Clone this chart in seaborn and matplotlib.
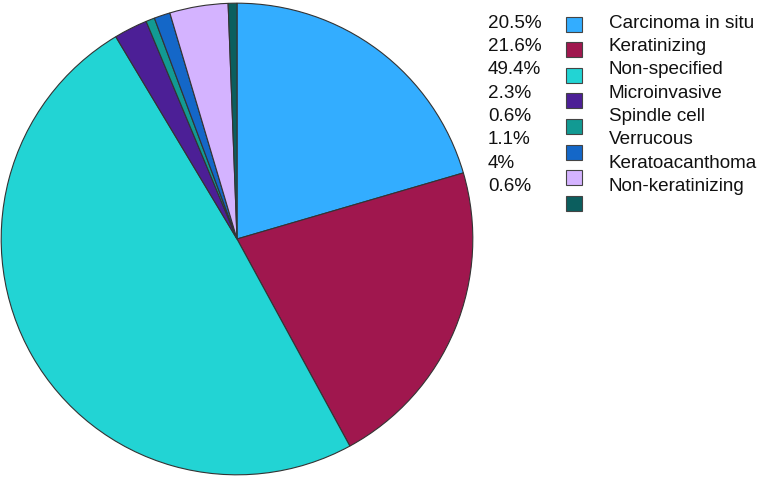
import numpy as np
import seaborn as sns
import matplotlib.pyplot as plt
from matplotlib.patches import Rectangle

# chart data
categories = ['Carcinoma in situ', 'Keratinizing', 'Non-specified', 'Microinvasive',
              'Spindle cell', 'Verrucous', 'Keratoacanthoma', 'Non-keratinizing']
shares = [20.5, 21.6, 49.4, 2.3, 0.6, 1.1, 4, 0.6]
share_labels = ['20.5%', '21.6%', '49.4%', '2.3%', '0.6%', '1.1%', '4%', '0.6%']
colors = ['#33adff', '#a0174e', '#22d4d4', '#4c1f96', '#129a93', '#1467c8', '#d4b3ff', '#0b5e5e']

sns.set_style('white')
plt.rcParams['font.family'] = ['Liberation Sans', 'DejaVu Sans']

W, H = 760, 478
fig = plt.figure(figsize=(W / 100, H / 100), dpi=100)
ax = fig.add_axes([0 / W, 2 / H, 474 / W, 474 / H])

palette = sns.color_palette(colors)
ax.pie(shares, colors=palette, startangle=90, counterclock=False, radius=1,
       wedgeprops=dict(edgecolor='#333333', linewidth=0.8))
ax.set_xlim(-1.005, 1.005)
ax.set_ylim(-1.005, 1.005)
ax.set_aspect('equal')
ax.axis('off')

# legend: percentage, swatch, label
for i, (cat, lab, col) in enumerate(zip(categories, share_labels, palette)):
    ty = 23 + i * 23.4
    sy = 24 + i * 25.6
    fig.text(488 / W, 1 - ty / H, lab, fontsize=13.6, va='center', ha='left', color='#111111')
    fig.text(609 / W, 1 - ty / H, cat, fontsize=13.6, va='center', ha='left', color='#111111')
    fig.add_artist(Rectangle((566 / W, 1 - (sy + 7.5) / H), 16 / W, 15 / H,
                             transform=fig.transFigure, facecolor=col,
                             edgecolor='#444444', linewidth=0.8))

fig.savefig('out.png', dpi=100)
